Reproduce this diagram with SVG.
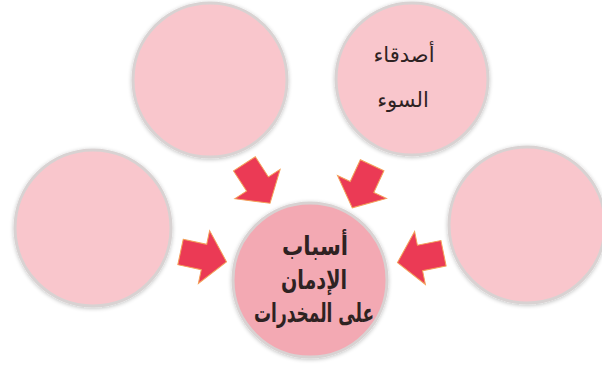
<svg xmlns="http://www.w3.org/2000/svg" width="602" height="370" viewBox="0 0 602 370">
<defs>
<style>
.outer{fill:#f9c6cc;stroke:#d8d2d2;stroke-width:3}
.center{fill:#f3a9b3;stroke:#d8d2d2;stroke-width:3}
.arrow{fill:#eb3a55;stroke:#f3a15a;stroke-width:1}
.t{font-family:"DejaVu Sans",sans-serif;fill:#2e2222;text-anchor:middle}
.tb{font-size:26px;font-weight:bold}
.tn{font-size:21px}
</style>
<filter id="sh" x="-20%" y="-20%" width="140%" height="140%">
<feGaussianBlur in="SourceAlpha" stdDeviation="2"/>
<feOffset dx="0" dy="1"/>
<feComponentTransfer><feFuncA type="linear" slope="0.25"/></feComponentTransfer>
<feMerge><feMergeNode/><feMergeNode in="SourceGraphic"/></feMerge>
</filter>
<polygon id="arr" points="-24,-13 0,-13 0,-27 23,0 0,27 0,13 -24,13"/>
</defs>
<rect width="602" height="370" fill="#ffffff"/>
<g id="node-top-left"><circle class="outer" cx="210" cy="80" r="77" filter="url(#sh)"/></g>
<g id="node-top-right"><circle class="outer" cx="412" cy="79" r="76" filter="url(#sh)"/>
<text class="t tn" x="404" y="62">أصدقاء</text>
<text class="t tn" x="403" y="107">السوء</text></g>
<g id="node-left"><circle class="outer" cx="93" cy="228" r="78" filter="url(#sh)"/></g>
<g id="node-right"><circle class="outer" cx="527" cy="225" r="78" filter="url(#sh)"/></g>
<g id="node-center"><circle class="center" cx="310" cy="280" r="77" filter="url(#sh)"/>
<text class="t tb" x="315" y="255" textLength="66" lengthAdjust="spacingAndGlyphs">أسباب</text>
<text class="t tb" x="314" y="289" textLength="66" lengthAdjust="spacingAndGlyphs">الإدمان</text>
<text class="t tb" x="314" y="322" textLength="120" lengthAdjust="spacingAndGlyphs">على المخدرات</text></g>
<g id="connectors">
<use href="#arr" class="arrow" transform="translate(257.5,184) rotate(57)"/>
<use href="#arr" class="arrow" transform="translate(362,187) rotate(115)"/>
<use href="#arr" class="arrow" transform="translate(204,257) rotate(12)"/>
<use href="#arr" class="arrow" transform="translate(420,258) rotate(168.5)"/>
</g>
</svg>
